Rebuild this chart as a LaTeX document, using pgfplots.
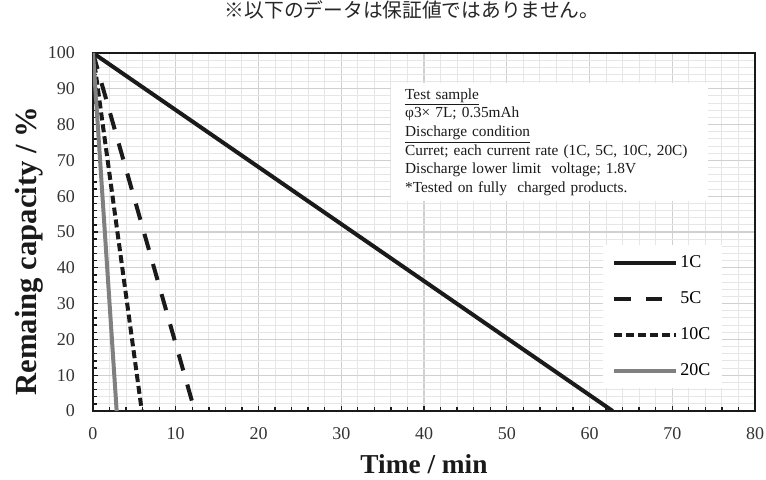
\documentclass[border=0pt]{standalone}
\usepackage{pgfplots}
\pgfplotsset{compat=1.18}
\usepackage{fontspec}
\setmainfont{Liberation Serif}
\newfontfamily\cjk{Noto Sans CJK JP}
\definecolor{gmaj}{HTML}{D0D0D0}
\definecolor{gmin}{HTML}{E6E6E6}
\definecolor{linek}{HTML}{1A1A1A}
\definecolor{lineg}{HTML}{808080}
\begin{document}
\begin{tikzpicture}
\path[use as bounding box] (-69.75pt,-51pt) rectangle (504.75pt,308.25pt);
\begin{axis}[
  at={(0,0)}, anchor=south west,
  scale only axis, width=496.5pt, height=268.5pt,
  xmin=0, xmax=80, ymin=0, ymax=100,
  xtick={0,10,...,80}, ytick={0,10,...,100},
  minor x tick num=4, minor y tick num=4,
  tick align=inside, xtick pos=left, ytick pos=left,
  major tick length=3.5pt, minor tick length=2.8pt,
  every tick/.style={linek, line width=1pt},
  grid=both,
  major grid style={gmaj, line width=0.8pt},
  minor grid style={gmin, line width=0.8pt},
  axis line style={linek, line width=1.6pt},
  /pgf/number format/assume math mode=true,
  tick label style={font=\fontsize{13.5}{15}\selectfont, text=black!80},
  xticklabel style={yshift=-9pt},
  yticklabel style={xshift=-10pt},
  xlabel={Time / min},
  ylabel={Remaing capacity / \%},
  xlabel style={at={(axis description cs:0.5,-0.148)}, anchor=center, font=\fontsize{20.5}{24}\selectfont\bfseries, text=linek},
  ylabel style={at={(axis description cs:-0.0967,0.447)}, anchor=center, rotate=0, font=\fontsize{23}{26}\selectfont\bfseries, text=linek},
  title={\cjk ※以下のデータは保証値ではありません。},
  title style={at={(axis description cs:0.482,1.098)}, anchor=center, font=\fontsize{14.8}{17}\selectfont, text=black!85},
  legend image code/.code={\draw[#1] (0pt,0pt) -- (46pt,0pt);},
  legend style={at={(rel axis cs:0.77,0.464)}, anchor=north west, fill=white, draw=none,
    font=\fontsize{13.5}{15}\selectfont, row sep=12.5pt, inner xsep=7pt, inner ysep=6pt},
  legend cell align=left,
]
\addplot[linek, line width=3pt] coordinates {(0,100) (62.8,0)};
\addplot[linek, line width=3pt, dash pattern=on 12.5pt off 11pt] coordinates {(0,100) (12.3,0)};
\addplot[linek, line width=3pt, dash pattern=on 6pt off 3pt] coordinates {(0,100) (5.9,0)};
\addplot[lineg, line width=3pt] coordinates {(0,100) (2.86,0)};
\legend{1C,5C,10C,20C}
\node[fill=white, anchor=north west, align=left, inner xsep=11pt, inner ysep=4pt,
  font=\fontsize{11.5}{14}\selectfont, text width=216pt, text=linek]
  at (rel axis cs:0.449,0.916)
  {\underline{Test sample}\\
   φ3× 7L; 0.35mAh\\
   \underline{Discharge condition}\\
   Curret; each current rate (1C, 5C, 10C, 20C)\\
   Discharge lower limit\ \ voltage; 1.8V\\
   \relax *Tested on fully\ \ charged products.};
\end{axis}
\end{tikzpicture}
\end{document}
